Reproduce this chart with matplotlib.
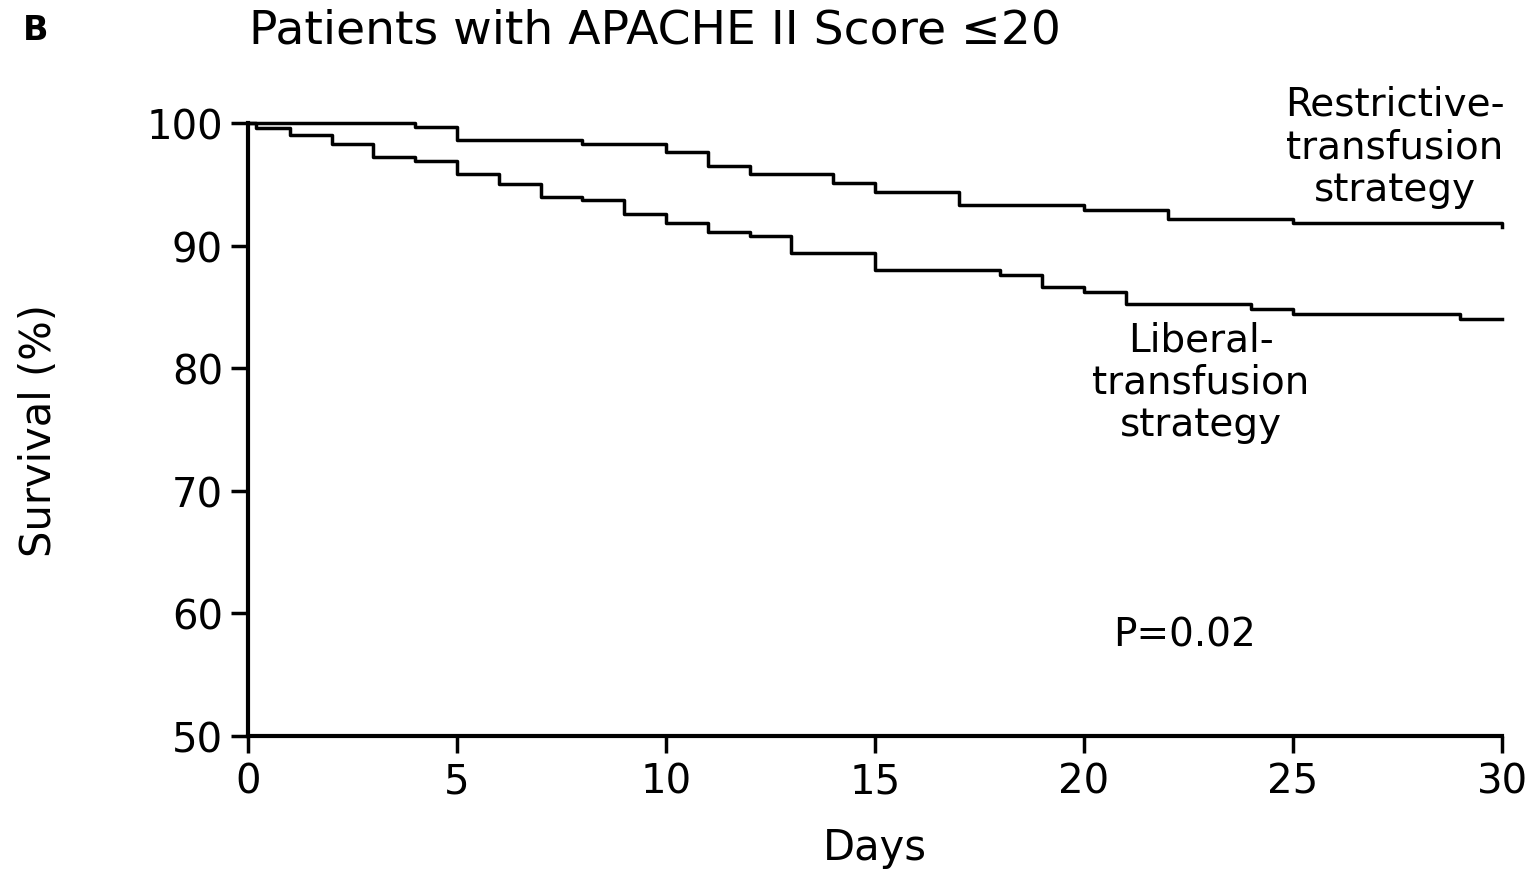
import matplotlib
matplotlib.use("Agg")
import matplotlib.pyplot as plt

# step points (day, survival %)
restrictive_days = [0, 4, 5, 8, 10, 11, 12, 14, 15, 17, 20, 22, 25, 30]
restrictive_surv = [100, 99.7, 98.6, 98.3, 97.6, 96.5, 95.8, 95.1, 94.4, 93.3, 92.9, 92.2, 91.8, 91.5]

liberal_days = [0, 0.2, 1, 2, 3, 4, 5, 6, 7, 8, 9, 10, 11, 12, 13, 15, 18, 19, 20, 21, 24, 25, 29, 30]
liberal_surv = [100, 99.6, 99.0, 98.3, 97.2, 96.9, 95.8, 95.0, 94.0, 93.7, 92.6, 91.8, 91.1, 90.8,
                89.4, 88.0, 87.6, 86.6, 86.2, 85.2, 84.8, 84.4, 84.0, 84.0]

x_ticks = [0, 5, 10, 15, 20, 25, 30]
y_ticks = [50, 60, 70, 80, 90, 100]

plt.rcParams['font.family'] = ['DejaVu Sans']

fig = plt.figure(figsize=(15.39, 8.79), dpi=100)
ax = fig.add_axes([0.1611, 0.1615, 0.8149, 0.6975])

ax.step(restrictive_days, restrictive_surv, where='post', color='black', lw=2.5, clip_on=False)
ax.step(liberal_days, liberal_surv, where='post', color='black', lw=2.5, clip_on=False)

ax.set_xlim(0, 30)
ax.set_ylim(50, 100)
ax.set_xticks(x_ticks)
ax.set_yticks(y_ticks)
ax.tick_params(labelsize=29, width=2.5, length=12, direction='out', pad=6)

for s in ['top', 'right']:
    ax.spines[s].set_visible(False)
for s in ['left', 'bottom']:
    ax.spines[s].set_linewidth(3)

ax.set_xlabel("Days", fontsize=30, labelpad=18)
ax.set_ylabel("Survival (%)", fontsize=30, labelpad=62)

ax.text(27.44, 98.1, "Restrictive-\ntransfusion\nstrategy", fontsize=28, ha='center', va='center',
        linespacing=1.15)
ax.text(22.8, 78.9, "Liberal-\ntransfusion\nstrategy", fontsize=28, ha='center', va='center',
        linespacing=1.15)
ax.text(22.4, 58.3, "P=0.02", fontsize=28, ha='center', va='center')

fig.text(0.015, 0.965, "B", fontsize=24, fontweight='bold', va='center')
fig.text(0.162, 0.965, "Patients with APACHE II Score \u226420", fontsize=34, va='center')

fig.savefig("out.png", dpi=100)
